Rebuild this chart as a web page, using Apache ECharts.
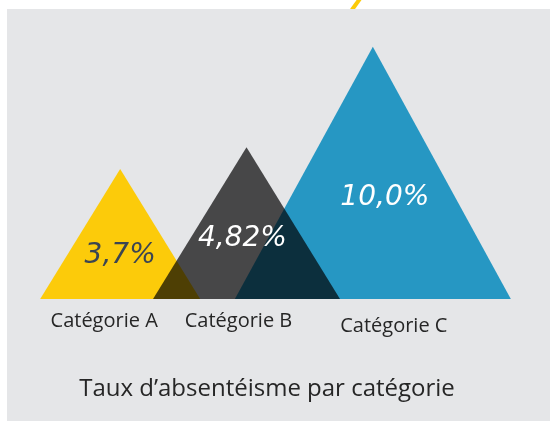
<!DOCTYPE html>
<html lang="fr">
<head>
<meta charset="UTF-8">
<title>absenteisme</title>
<script src="https://cdn.jsdelivr.net/npm/echarts@6/dist/echarts.min.js"></script>
</head>
<body style="margin:0">
<div id="main" style="width:550px;height:421px;"></div>
<script>
    // données
    var categories = ['Catégorie A', 'Catégorie B', 'Catégorie C'];
    var taux = [3.7, 4.82, 10.0];
    var tauxLabels = ['3,7%', '4,82%', '10,0%'];

    // styles par triangle (B et C éclaircis car dessinés en "multiply")
    var couleurs = ['#FCCB0A', '#4F4F4F', '#2AA8D7'];
    var largeurs = [160, 187, 276];
    var labelCouleurs = ['#3B4552', '#ffffff', '#ffffff'];
    var labelDx = [0, -4, 12];
    var labelPos = [0.667, 0.6, 0.6];
    var yMin = -3;

    function triangle(params, api) {
        var i = params.dataIndex;
        var top = api.coord([api.value(0), api.value(1)]);
        var base = api.coord([api.value(0), yMin]);
        var w = largeurs[i] / 2;
        return {
            type: 'polygon',
            shape: {points: [[top[0], top[1]], [top[0] - w, base[1]], [top[0] + w, base[1]]]},
            style: {fill: couleurs[i]}
        };
    }

    var chart = echarts.init(document.getElementById('main'));
    var data = taux.map(function (v, i) { return [i, v]; });

    var option = {
        backgroundColor: '#ffffff',
        animation: false,
        title: {
            text: 'Taux d\u2019absentéisme par catégorie',
            left: 262,
            textAlign: 'center',
            top: 372,
            textStyle: {color: '#262626', fontSize: 24, fontWeight: 'normal', fontFamily: 'Open Sans'}
        },
        graphic: [
            {type: 'line', z: -2, shape: {x1: 360.5, y1: -2, x2: 351.8, y2: 10}, style: {stroke: '#FCCB0A', lineWidth: 4}},
            {type: 'rect', z: -1, shape: {x: 7, y: 9, width: 543, height: 412}, style: {fill: '#E5E6E8'}}
        ],
        grid: {left: 57, right: 114, top: 37, bottom: 122},
        xAxis: {
            type: 'category',
            data: categories,
            z: 5,
            axisLine: {show: false},
            axisTick: {show: false},
            axisLabel: {
                interval: 0,
                hideOverlap: false,
                margin: 12,
                color: '#262626',
                fontSize: 20,
                fontFamily: 'Open Sans',
                formatter: function (v, idx) { return '{c' + idx + '|' + v + '}'; },
                rich: {
                    c0: {padding: [0, 32, 0, 0]},
                    c1: {padding: [0, 16, 0, 0]},
                    c2: {padding: [5, 0, 0, 42]}
                }
            }
        },
        yAxis: {type: 'value', min: yMin, max: 10.5, show: false, splitLine: {show: false}},
        series: [
            {
                type: 'custom',
                z: 2,
                renderItem: function (params, api) {
                    return params.dataIndex === 0 ? triangle(params, api) : null;
                },
                data: data
            },
            {
                type: 'custom',
                z: 3,
                blendMode: 'multiply',
                renderItem: function (params, api) {
                    return params.dataIndex === 0 ? null : triangle(params, api);
                },
                data: data
            },
            {
                type: 'custom',
                z: 4,
                renderItem: function (params, api) {
                    var i = params.dataIndex;
                    var top = api.coord([api.value(0), api.value(1)]);
                    var base = api.coord([api.value(0), yMin]);
                    return {
                        type: 'text',
                        x: top[0] + labelDx[i],
                        y: top[1] + (base[1] - top[1]) * labelPos[i],
                        style: {
                            text: tauxLabels[i],
                            fill: labelCouleurs[i],
                            fontSize: 28,
                            fontStyle: 'italic',
                            fontFamily: 'DejaVu Sans',
                            align: 'center',
                            verticalAlign: 'middle'
                        }
                    };
                },
                data: data
            }
        ]
    };
    chart.setOption(option);
</script>
</body>
</html>
